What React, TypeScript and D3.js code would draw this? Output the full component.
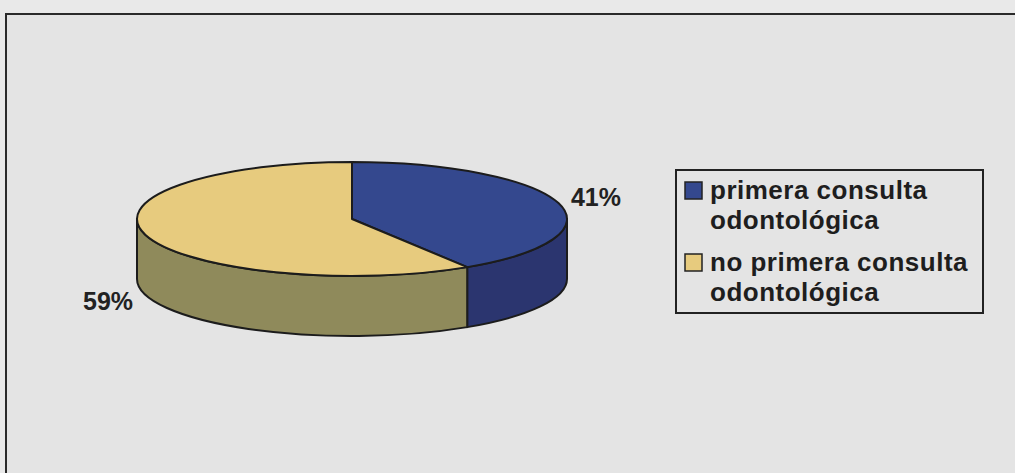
import React from "react";
import * as d3 from "d3";

const categories = ["primera consulta odontológica", "no primera consulta odontológica"];
const values = [41, 59];
const legendLines = [["primera consulta", "odontológica"], ["no primera consulta", "odontológica"]];
const topColors = ["#34488e", "#e7cb7e"];
const sideColors = ["#2b356f", "#8f8a5b"];

const W = 1015, H = 473;
const cx = 352, cy = 219, rx = 215, ry = 57, depth = 60;
const FONT = "'Liberation Sans', Arial, Helvetica, sans-serif";

function pt(a: number, dy = 0): [number, number] {
  return [cx + rx * Math.sin(a), cy - ry * Math.cos(a) + dy];
}

function topPath(a0: number, a1: number) {
  const [x0, y0] = pt(a0);
  const [x1, y1] = pt(a1);
  const large = a1 - a0 > Math.PI ? 1 : 0;
  return `M${cx},${cy}L${x0},${y0}A${rx},${ry} 0 ${large} 1 ${x1},${y1}Z`;
}

function sidePath(a0: number, a1: number) {
  const s = Math.max(a0, Math.PI / 2);
  const e = Math.min(a1, (3 * Math.PI) / 2);
  if (e <= s) return null;
  const [x0, y0] = pt(s);
  const [x1, y1] = pt(e);
  const [x2, y2] = pt(e, depth);
  const [x3, y3] = pt(s, depth);
  return `M${x0},${y0}A${rx},${ry} 0 0 1 ${x1},${y1}L${x2},${y2}A${rx},${ry} 0 0 0 ${x3},${y3}Z`;
}

export default function App() {
  const arcs = d3.pie<number>().sort(null).value((d) => d)(values);
  const stroke = "#1c1c1c";
  return (
    <svg width={W} height={H} style={{ position: "absolute", left: 0, top: 0, display: "block" }}>
      <rect x={0} y={0} width={W} height={H} fill="#e9e9e9" />
      <rect x={6} y={14} width={W + 20} height={H + 20} fill="#e4e4e4" stroke="#2a2a2a" strokeWidth={2} />
      {arcs.map((a, i) => {
        const p = sidePath(a.startAngle, a.endAngle);
        return p ? <path key={"s" + i} d={p} fill={sideColors[i]} stroke={stroke} strokeWidth={2} strokeLinejoin="round" /> : null;
      })}
      {arcs.map((a, i) => (
        <path key={"t" + i} d={topPath(a.startAngle, a.endAngle)} fill={topColors[i]} stroke={stroke} strokeWidth={2} strokeLinejoin="round" />
      ))}
      {arcs.map((a, i) => {
        const mid = (a.startAngle + a.endAngle) / 2;
        const x = cx + 254 * Math.sin(mid);
        const c = Math.cos(mid);
        const y = cy - 80 * c + (c < 0 ? depth : 0) + 9;
        return (
          <text key={"l" + i} x={x} y={y} textAnchor="middle" fontFamily={FONT} fontWeight="bold" fontSize={25} fill="#222">
            {`${values[i]}%`}
          </text>
        );
      })}
      <g>
        <rect x={676} y={170} width={307} height={143} fill="#e4e4e4" stroke="#222" strokeWidth={2} />
        {categories.map((c, i) => (
          <g key={c} transform={`translate(0,${i * 72})`}>
            <rect x={685} y={182} width={17} height={17} fill={topColors[i]} stroke="#222" strokeWidth={1.5} />
            {legendLines[i].map((ln, j) => (
              <text key={j} x={710} y={199 + j * 30} fontFamily={FONT} fontWeight="bold" fontSize={26} letterSpacing={0.5} fill="#1e1e1e">
                {ln}
              </text>
            ))}
          </g>
        ))}
      </g>
    </svg>
  );
}
